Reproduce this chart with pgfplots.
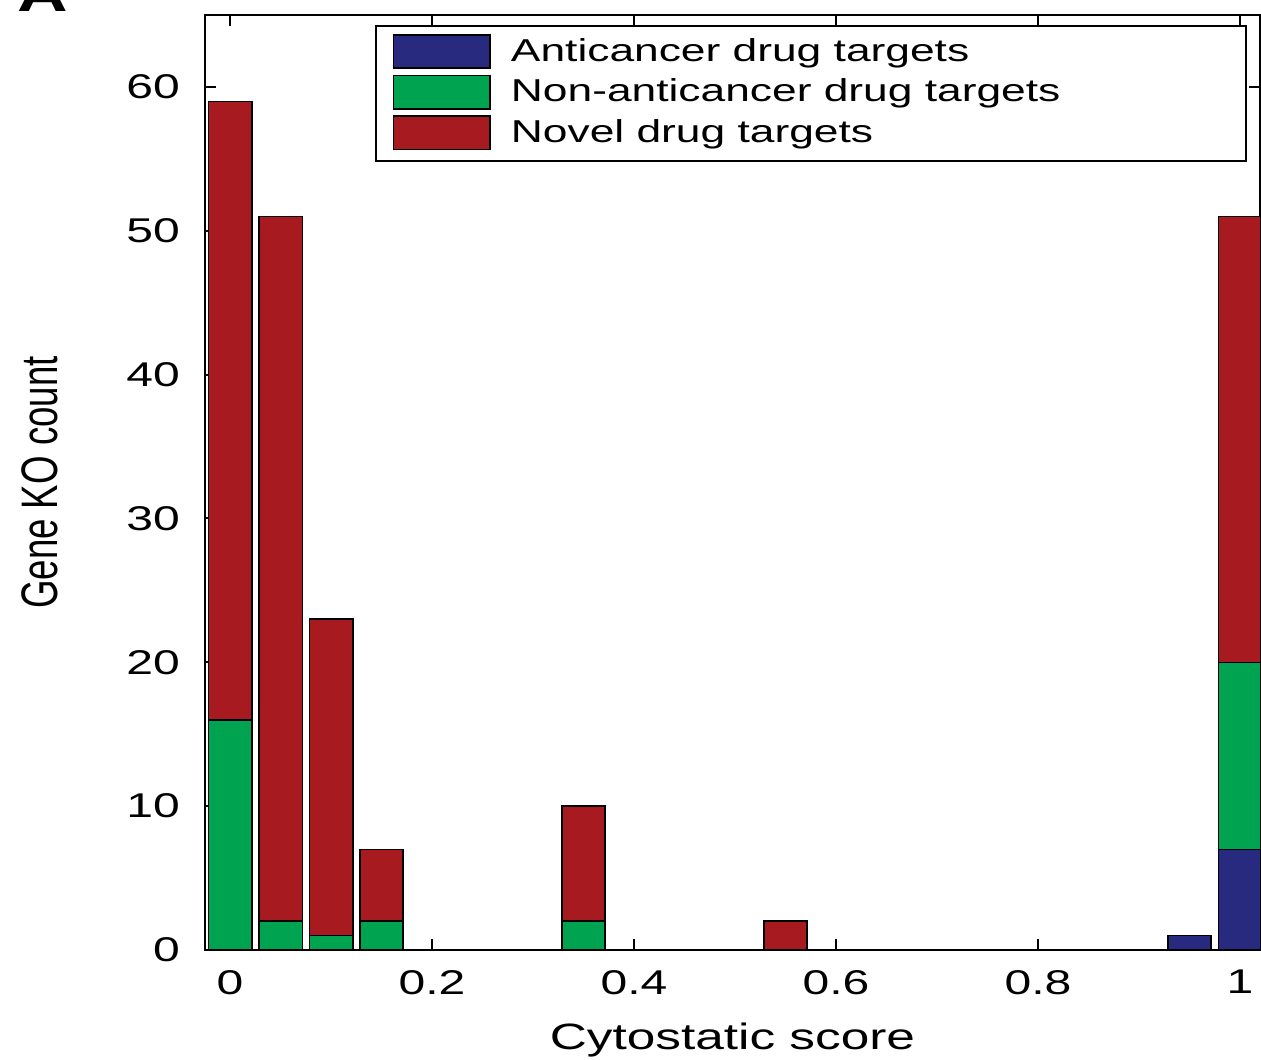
\documentclass[border=0pt]{standalone}
\usepackage{fontspec}
\setmainfont{Liberation Sans}[FakeStretch=1.4]
\newfontfamily\ylfont{Liberation Sans}
\usepackage{graphicx}
\usepackage{pgfplots}
\pgfplotsset{compat=1.18}
\definecolor{cblue}{RGB}{40,42,128}
\definecolor{cgreen}{RGB}{0,163,80}
\definecolor{cred}{RGB}{166,26,32}
\begin{document}
\begin{tikzpicture}
\begin{axis}[
  scale only axis,
  width=316.5pt, height=280.5pt,
  at={(0,0)}, anchor=south west,
  ybar stacked,
  bar width=0.043,
  xmin=-0.0248, xmax=1.0198,
  ymin=0, ymax=65,
  xtick={0,0.2,0.4,0.6,0.8,1},
  ytick={0,10,20,30,40,50,60},
  tick align=inside,
  xtick pos=both, ytick pos=both,
  major tick length=3.3pt,
  axis line style={line width=0.6pt, black},
  tick style={line width=0.6pt, black},
  /pgf/number format/assume math mode=true,
  ticklabel style={font=\fontsize{10.3}{12}\selectfont},
  yticklabel style={anchor=east, xshift=-4pt},
  xticklabel style={anchor=north, yshift=-2.5pt},
  xlabel={Cytostatic score},
  xlabel style={font=\fontsize{11}{13}\selectfont, at={(axis description cs:0.5,0)}, anchor=base, yshift=-30pt},
  ylabel={\scalebox{1}[1.4]{\ylfont\fontsize{11}{13}\selectfont Gene KO count}},
  ylabel style={at={(axis description cs:-0.1564,0.5)}, anchor=center},
  legend style={at={(axis description cs:0.1611,0.9893)}, anchor=north west,
    draw=black, line width=0.6pt, inner xsep=5pt, inner ysep=2pt,
    row sep=0pt, column sep=4.4pt,
    font=\fontsize{9.5}{11}\selectfont,
    nodes={inner sep=1.6pt, text height=7pt, text depth=2pt}},
  legend cell align=left,
  legend image code/.code={\draw[#1, draw=black, line width=0.5pt] (0pt,-4.6pt) rectangle (29pt,5.4pt);},
  every axis plot/.append style={draw=black, line width=0.45pt},
]
\addplot[fill=cblue] coordinates {(0,0) (0.05,0) (0.1,0) (0.15,0) (0.35,0) (0.55,0) (0.95,1) (1.0,7)};
\addplot[fill=cgreen] coordinates {(0,16) (0.05,2) (0.1,1) (0.15,2) (0.35,2) (0.55,0) (0.95,0) (1.0,13)};
\addplot[fill=cred] coordinates {(0,43) (0.05,49) (0.1,22) (0.15,5) (0.35,8) (0.55,2) (0.95,0) (1.0,31)};
\legend{\makebox[214pt][l]{Anticancer drug targets}, \makebox[214pt][l]{Non-anticancer drug targets}, \makebox[214pt][l]{Novel drug targets}}
\end{axis}
\node[anchor=base west, inner sep=0pt, font=\fontsize{15}{15}\selectfont\bfseries] at (-56.4pt,281.4pt) {A};
\pgfresetboundingbox
\path[use as bounding box] (-61.5pt,-33pt) rectangle (316.8pt,285pt);
\end{tikzpicture}
\end{document}
